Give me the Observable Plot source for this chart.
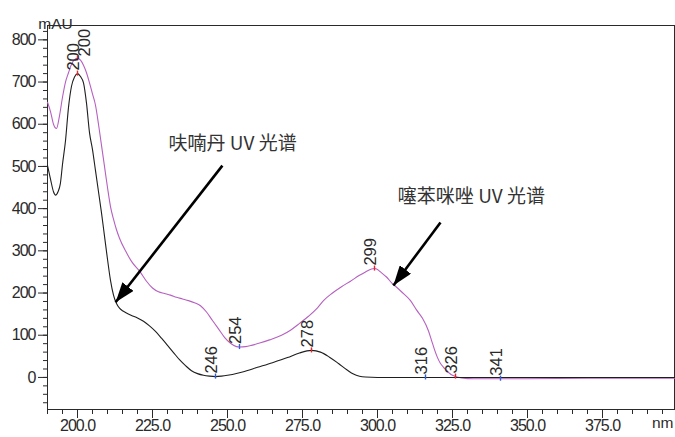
<!DOCTYPE html>
<html><head><meta charset="utf-8">
<script src="https://cdn.jsdelivr.net/npm/d3@7"></script>
<script src="https://cdn.jsdelivr.net/npm/@observablehq/plot@0.6"></script>
<style>
body{margin:0;background:#fff} svg{display:block}
g[aria-label$="tick label"] text{letter-spacing:-1px}
</style>
</head><body><div id="chart"></div>
<script>
// Carbofuran (呋喃丹) UV spectrum – black curve
const carbofuranNm  = [190,191,192,192.7,193.5,194.3,195,196,197,198,199,200,201,202,203,204,205,206,207,208,209,210,211,212,213,214,215,216,218,220,222,224,226,228,230,232,234,236,238,240,242,244,246,248,250,255,260,265,270,274,278,281,284,287,290,292,294,296,300,320,360,399];
const carbofuranMAU = [502,470,440,432,440,460,505,561,640,690,712,720,713,698,650,580,540,490,440,390,335,280,230,195,175,164,158,154,147,141,133,122,109,93,76,59,42,28,16,9,5,3,2,3,5,13,24,35,47,58,64,60,48,33,17,8,3,1,0,0,0,0];
// Thiabendazole (噻苯咪唑) UV spectrum – purple curve
const thiabendazoleNm  = [190,191,192,193,194,195,196,197,198,199,200,201,202,203,204,205,206,207,208,209,210,211,212,213,214,216,218,221,223,225,227,229,231,233,235,237,239,241,243,245,247,249,251,253,254,256,258,261,264,268,271,274,277,280,282,285,288,291,294,296,298,299,300,301,303,305,306,308,311,313,315,317,318,319,320,321,322,323,324,325,326,328,332,340,350,370,399];
const thiabendazoleMAU = [652,630,600,590,620,664,700,722,742,753,756,752,740,722,698,672,645,600,550,500,450,405,375,350,330,300,275,249,228,212,203,199,195,190,186,182,177,170,155,135,115,95,81,73,72,73,76,82,89,100,112,128,145,165,182,200,215,228,242,250,257,258,256,250,238,222,216,203,182,160,140,110,88,66,47,33,24,17,10,5,2,-1,-3,-3,-3,-2,-2];
// Peak / valley markers
const peakNm     = [200,200,246,254,278,299,316,326,341];
const peakMAU    = [720,756,2,72,64,258,0,2,-3];
const peakKind   = ["max","max","min","min","max","max","min","max","min"];
const peakSide   = ["left","right","left","left","left","left","left","left","left"];
// Annotations
const noteText   = ["呋喃丹 UV 光谱","噻苯咪唑 UV 光谱"];
const noteNm     = [251.7,331.3];
const noteMAU    = [554,427];
const arrowFromNm  = [248.3,321];
const arrowFromMAU = [502,367];
const arrowToNm    = [212.7,305.3];
const arrowToMAU   = [178,218];
// Axis ticks
const xTicks = [200,225,250,275,300,325,350,375];
const xMinor = d3.range(190,399,5);
const yTicks = [0,100,200,300,400,500,600,700,800];
const yMinor = d3.range(-60,821,20);
const xDomain = [190,399];
const yDomain = [-76,834];

const carb = carbofuranNm.map((x,i)=>({x, y: carbofuranMAU[i]}));
const thia = thiabendazoleNm.map((x,i)=>({x, y: thiabendazoleMAU[i]}));
const peaks = peakNm.map((x,i)=>({x, y: peakMAU[i], label: String(x), kind: peakKind[i], side: peakSide[i]}));
const notes = noteText.map((t,i)=>({t, x: noteNm[i], y: noteMAU[i]}));
const arrows = arrowFromNm.map((x1,i)=>({x1, y1: arrowFromMAU[i], x2: arrowToNm[i], y2: arrowToMAU[i]}));

const ink = "#2a2a2a";
const chart = Plot.plot({
  width: 675, height: 437,
  marginLeft: 47, marginRight: 1, marginTop: 25, marginBottom: 28,
  style: {fontFamily: "'Liberation Sans', Arial, sans-serif", background: "#fff", color: ink},
  x: {domain: xDomain, label: null},
  y: {domain: yDomain, label: null},
  marks: [
    Plot.frame({stroke: ink, strokeWidth: 1}),
    Plot.axisY(yMinor, {tickSize: 4, tickFormat: () => "", stroke: ink}),
    Plot.axisY(yTicks, {tickSize: 9, tickPadding: 3, fontSize: 16, stroke: ink, fill: ink}),
    Plot.axisX(xMinor, {tickSize: 5, tickFormat: () => "", stroke: ink}),
    Plot.axisX(xTicks, {tickSize: 9, tickPadding: 1, fontSize: 16, tickFormat: d3.format(".1f"), stroke: ink, fill: ink}),
    Plot.line(thia, {x: "x", y: "y", stroke: "#b660c0", strokeWidth: 1.1, curve: "monotone-x"}),
    Plot.line(carb, {x: "x", y: "y", stroke: "#1e1e1e", strokeWidth: 1.1, curve: "monotone-x"}),
    Plot.ruleX(peaks, {x: "x", y1: d => d.y - 6, y2: d => d.y + 6, stroke: d => d.kind === "max" ? "#e8262a" : "#2f62d8", strokeWidth: 1.4}),
    Plot.text(peaks.filter(d => d.side === "left"), {x: "x", y: "y", text: "label", rotate: -90, textAnchor: "start", lineAnchor: "bottom", dy: -3, dx: 1, fontSize: 16.5, fill: ink}),
    Plot.text(peaks.filter(d => d.side === "right"), {x: "x", y: "y", text: "label", rotate: -90, textAnchor: "start", lineAnchor: "bottom", dy: -2, dx: 12, fontSize: 16.5, fill: ink}),
    Plot.link(arrows, {x1: "x1", y1: "y1", x2: "x2", y2: "y2", stroke: "#000", strokeWidth: 2.6, className: "note-arrow"}),
    Plot.text(notes, {x: "x", y: "y", text: "t", fontSize: 19, fontFamily: "'Noto Sans CJK SC', sans-serif", fill: "#333"}),
    Plot.text(["mAU"], {frameAnchor: "top-left", textAnchor: "middle", dx: 8, dy: -8, fontSize: 15.5, fill: ink}),
    Plot.text(["nm"], {frameAnchor: "bottom-right", textAnchor: "end", dx: -1, dy: 18, fontSize: 15.5, fill: ink})
  ]
});

// filled arrowheads on the annotation links
const svg = d3.select(chart);
const defs = svg.append("defs");
defs.append("marker").attr("id", "ahead").attr("markerUnits", "userSpaceOnUse")
  .attr("viewBox", "0 0 20 14").attr("markerWidth", 20).attr("markerHeight", 14)
  .attr("refX", 20).attr("refY", 7).attr("orient", "auto")
  .append("path").attr("d", "M0,0L20,7L0,14Z").attr("fill", "#000");
svg.selectAll(".note-arrow path").attr("marker-end", "url(#ahead)");
document.getElementById("chart").appendChild(chart);
</script>
</body></html>
